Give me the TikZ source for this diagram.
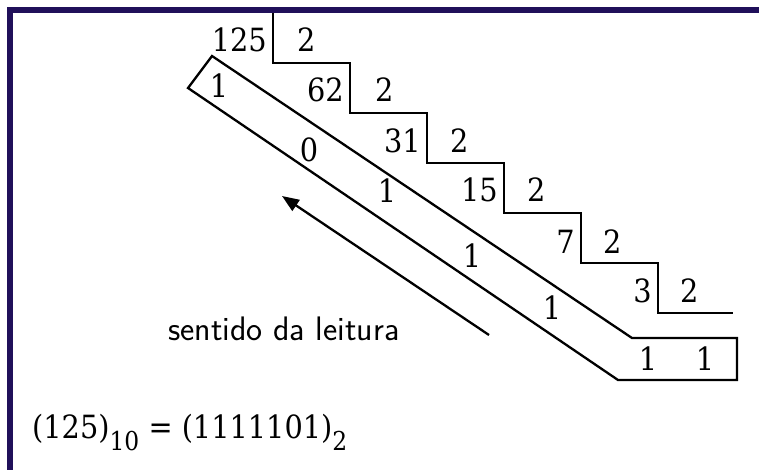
\documentclass[tikz,border=0pt]{standalone}
\usepackage{fontspec}
\usepackage{xcolor}
\usepackage{tikz}
\usetikzlibrary{arrows.meta,positioning}
\newfontfamily\numfont{DejaVu Serif Condensed}
\definecolor{framenavy}{HTML}{20105A}
\newcommand{\low}[1]{\raisebox{-12pt}{\fontsize{26}{30}\selectfont #1}}

\begin{document}
\begin{tikzpicture}[x=1pt,y=-1pt,line join=miter,
  num/.style={font=\numfont\fontsize{32}{38}\selectfont,inner sep=0pt},
  quo/.style={num,anchor=base east},
  dvs/.style={num,anchor=base west},
  rem/.style={num,anchor=base},
  lab/.style={font=\sffamily\fontsize{34}{40}\selectfont,inner sep=0pt,anchor=base west},
  res/.style={font=\numfont\fontsize{32}{38}\selectfont,inner sep=0pt,anchor=base west},
  stair/.style={draw=black,line width=2.3pt},
  >={Triangle[length=17pt,width=13pt]}]
  \useasboundingbox (0,0) rectangle (759,470);
  \fill[white] (0,0) rectangle (759,470);
  \draw[framenavy,line width=6pt] (10,470) -- (10,10) -- (759,10);
  \draw[stair] (273,13) -- (273,63) -- (350,63) -- (350,113) -- (427,113) -- (427,163)
    -- (504,163) -- (504,213) -- (581,213) -- (581,263) -- (658,263) -- (658,313) -- (733,313);
  \node[quo] (q125) at (267,52) {125};
  \node[quo] (q62) at (344,102) {62};
  \node[quo] (q31) at (421,153) {31};
  \node[quo] (q15) at (498,202) {15};
  \node[quo] (q7) at (575,253) {7};
  \node[quo] (q3) at (652,302) {3};
  \node[dvs] (d1) at (297,52) {2};
  \node[dvs] (d2) at (375,102) {2};
  \node[dvs] (d3) at (450,153) {2};
  \node[dvs] (d4) at (527,202) {2};
  \node[dvs] (d5) at (603,253) {2};
  \node[dvs] (d6) at (680,302) {2};
  \draw[stair] (188,88) -- (212,56) -- (632,338) -- (737,338) -- (737,380) -- (618,380) -- cycle;
  \node[rem] (r1) at (219,98) {1};
  \node[rem] (r2) at (309,162) {0};
  \node[rem] (r3) at (387,203) {1};
  \node[rem] (r4) at (472,267) {1};
  \node[rem] (r5) at (552,319) {1};
  \node[rem] (r6) at (648,370) {1};
  \node[rem] (r7) at (705,370) {1};
  \coordinate (rdtail) at (489,335);
  \coordinate (rdhead) at (282,196);
  \draw[->,line width=2.3pt] (rdtail) -- (rdhead);
  \node[lab] (sentido) at (168,340) {sentido da leitura};
  \node[res] (result) at (32,438) {(125)\low{10} = (1111101)\low{2}};
\end{tikzpicture}
\end{document}
